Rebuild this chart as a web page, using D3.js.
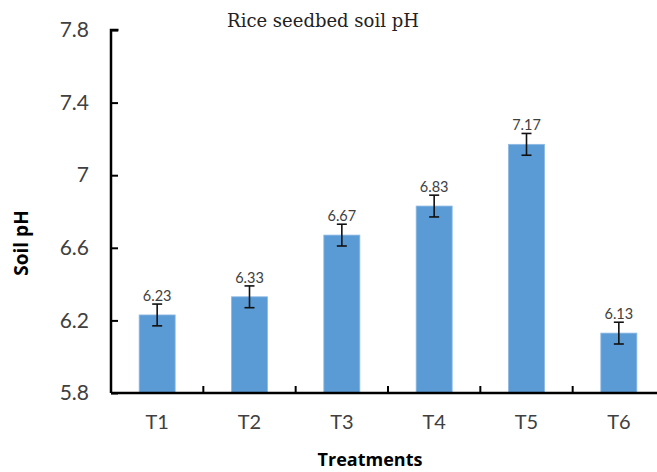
<!DOCTYPE html>
<html>
<head>
<meta charset="utf-8">
<script src="https://cdn.jsdelivr.net/npm/d3@7"></script>
<style>
  body { margin: 0; background: #fff; }
  svg { display: block; }
</style>
</head>
<body>
<div id="chart"></div>
<script>
const width = 657;
const height = 472;
const margin = {top: 30, right: -8, bottom: 79, left: 111};

const treatments = ["T1", "T2", "T3", "T4", "T5", "T6"];
const phValues = [6.23, 6.33, 6.67, 6.83, 7.17, 6.13];
const phErrors = [0.06, 0.06, 0.06, 0.06, 0.06, 0.06];
const yTicks = [5.8, 6.2, 6.6, 7.0, 7.4, 7.8];

const data = treatments.map((t, i) => ({name: t, value: phValues[i], err: phErrors[i]}));

const x = d3.scaleBand()
  .domain(treatments)
  .range([margin.left, width - margin.right])
  .paddingInner(0.61)
  .paddingOuter(0.305);

const y = d3.scaleLinear()
  .domain([5.8, 7.8])
  .range([height - margin.bottom, margin.top]);

const svg = d3.select('#chart').append('svg')
  .attr('width', width)
  .attr('height', height);

const sans = 'Lato, "Open Sans", sans-serif';

// bars
svg.append('g')
  .selectAll('rect')
  .data(data)
  .join('rect')
  .attr('x', d => x(d.name))
  .attr('y', d => y(d.value))
  .attr('width', x.bandwidth())
  .attr('height', d => y(5.8) - y(d.value))
  .attr('fill', '#5b9bd5')
  .attr('stroke', '#8db9e4')
  .attr('stroke-width', 0.8);

// error bars
const eb = svg.append('g')
  .attr('stroke', '#111')
  .attr('stroke-width', 1.6);

eb.selectAll('line.v')
  .data(data)
  .join('line')
  .attr('class', 'v')
  .attr('x1', d => x(d.name) + x.bandwidth() / 2)
  .attr('x2', d => x(d.name) + x.bandwidth() / 2)
  .attr('y1', d => y(d.value + d.err))
  .attr('y2', d => y(d.value - d.err));

eb.selectAll('line.top')
  .data(data)
  .join('line')
  .attr('class', 'top')
  .attr('x1', d => x(d.name) + x.bandwidth() / 2 - 5)
  .attr('x2', d => x(d.name) + x.bandwidth() / 2 + 5)
  .attr('y1', d => y(d.value + d.err))
  .attr('y2', d => y(d.value + d.err));

eb.selectAll('line.bot')
  .data(data)
  .join('line')
  .attr('class', 'bot')
  .attr('x1', d => x(d.name) + x.bandwidth() / 2 - 5)
  .attr('x2', d => x(d.name) + x.bandwidth() / 2 + 5)
  .attr('y1', d => y(d.value - d.err))
  .attr('y2', d => y(d.value - d.err));

// value labels
svg.append('g')
  .selectAll('text')
  .data(data)
  .join('text')
  .attr('x', d => x(d.name) + x.bandwidth() / 2)
  .attr('y', d => y(d.value + d.err) - 3)
  .attr('text-anchor', 'middle')
  .style('font-family', sans)
  .style('font-size', '14.5px')
  .style('fill', '#404040')
  .text(d => d.value.toFixed(2));

// y axis
const yAxis = svg.append('g')
  .attr('transform', `translate(${margin.left},0)`)
  .call(d3.axisLeft(y).tickValues(yTicks).tickSize(-7).tickPadding(22)
    .tickFormat(d => d === 7 ? '7' : d3.format('.1f')(d)));
yAxis.select('.domain').attr('stroke', '#000').attr('stroke-width', 2.5)
  .attr('d', `M7.5,${margin.top}H0V${y(5.8)}`);
yAxis.selectAll('line').attr('stroke', '#000').attr('stroke-width', 2);
yAxis.selectAll('text')
  .style('font-family', sans)
  .style('font-size', '21px')
  .style('fill', '#404040');

// x axis
const xAxis = svg.append('g')
  .attr('transform', `translate(0,${y(5.8)})`)
  .call(d3.axisBottom(x).tickSize(0).tickPadding(22));
xAxis.select('.domain').attr('stroke', '#000').attr('stroke-width', 2.5)
  .attr('d', `M${margin.left},0H${width - margin.right}`);
xAxis.selectAll('text')
  .style('font-family', sans)
  .style('font-size', '20px')
  .style('fill', '#404040');

// category separator ticks
const step = x.step();
svg.append('g')
  .selectAll('line')
  .data(treatments.slice(1))
  .join('line')
  .attr('x1', d => x(d) - (step - x.bandwidth()) / 2)
  .attr('x2', d => x(d) - (step - x.bandwidth()) / 2)
  .attr('y1', y(5.8))
  .attr('y2', y(5.8) - 7)
  .attr('stroke', '#000')
  .attr('stroke-width', 2);

// title
svg.append('text')
  .attr('x', 323)
  .attr('y', 27)
  .attr('text-anchor', 'middle')
  .style('font-family', '"DejaVu Serif", "Liberation Serif", serif')
  .style('font-size', '18px')
  .style('fill', '#222')
  .text('Rice seedbed soil pH');

// axis titles
svg.append('text')
  .attr('transform', 'translate(28,243) rotate(-90)')
  .attr('text-anchor', 'middle')
  .style('font-family', '"Open Sans", Lato, sans-serif')
  .style('font-size', '19px')
  .style('font-weight', 'bold')
  .style('fill', '#000')
  .text('Soil pH');

svg.append('text')
  .attr('x', 370)
  .attr('y', 466)
  .attr('text-anchor', 'middle')
  .style('font-family', '"Open Sans", Lato, sans-serif')
  .style('font-size', '18px')
  .style('font-weight', 'bold')
  .style('fill', '#000')
  .text('Treatments');
</script>
</body>
</html>
